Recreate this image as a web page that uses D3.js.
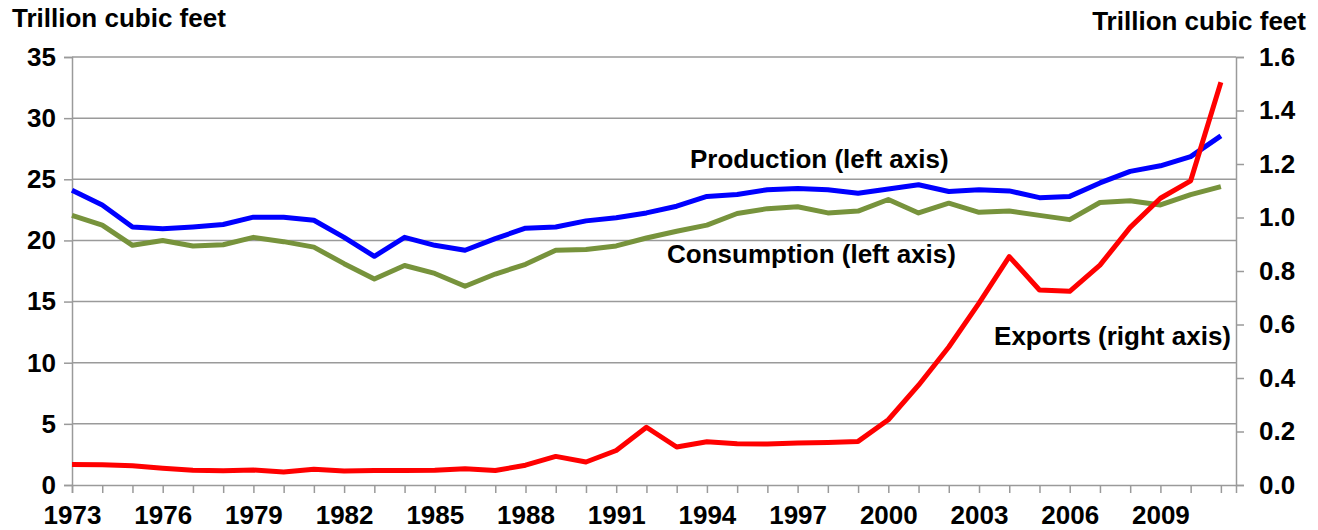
<!DOCTYPE html>
<html>
<head>
<meta charset="utf-8">
<script src="https://cdn.jsdelivr.net/npm/d3@7"></script>
<style>
    body { margin: 0; background: #fff; }
    text { font-family: "Liberation Sans", Arial, sans-serif; font-weight: bold; fill: #000; }
</style>
</head>
<body>
<div id="graph1"></div>
<script>
// data
var years = [1973, 1974, 1975, 1976, 1977, 1978, 1979, 1980, 1981, 1982, 1983, 1984, 1985,
    1986, 1987, 1988, 1989, 1990, 1991, 1992, 1993, 1994, 1995, 1996, 1997, 1998, 1999,
    2000, 2001, 2002, 2003, 2004, 2005, 2006, 2007, 2008, 2009, 2010, 2011];
var production = [24.1, 22.9, 21.1, 20.95, 21.1, 21.3, 21.9, 21.9, 21.65, 20.25, 18.7, 20.25, 19.6,
    19.2, 20.15, 21.0, 21.1, 21.6, 21.85, 22.25, 22.8, 23.6, 23.75, 24.15, 24.25, 24.15, 23.85,
    24.2, 24.55, 24.0, 24.15, 24.05, 23.5, 23.6, 24.7, 25.65, 26.1, 26.85, 28.55];
var consumption = [22.05, 21.25, 19.6, 20.0, 19.55, 19.65, 20.25, 19.9, 19.45, 18.1, 16.85, 17.95, 17.3,
    16.25, 17.25, 18.05, 19.2, 19.25, 19.55, 20.2, 20.75, 21.25, 22.2, 22.6, 22.75, 22.25, 22.4,
    23.35, 22.25, 23.05, 22.3, 22.4, 22.05, 21.7, 23.1, 23.25, 22.9, 23.75, 24.4];
var exports = [0.077, 0.076, 0.072, 0.063, 0.055, 0.053, 0.056, 0.049, 0.059, 0.052, 0.054, 0.054, 0.055,
    0.061, 0.054, 0.074, 0.107, 0.086, 0.129, 0.216, 0.142, 0.162, 0.154, 0.153, 0.157, 0.159, 0.163,
    0.244, 0.373, 0.516, 0.680, 0.854, 0.729, 0.724, 0.822, 0.963, 1.072, 1.137, 1.506];
var leftTicks = [0, 5, 10, 15, 20, 25, 30, 35];
var rightTicks = [0, 0.2, 0.4, 0.6, 0.8, 1.0, 1.2, 1.4, 1.6];
var yearLabels = [1973, 1976, 1979, 1982, 1985, 1988, 1991, 1994, 1997, 2000, 2003, 2006, 2009];

var width = 1318, height = 530;
var plot = {left: 72, right: 1236, top: 57, bottom: 485};
var fontSize = "26px";

var svg = d3.select("#graph1")
    .append("svg")
    .attr("width", width)
    .attr("height", height);

// scales: years sit on the tick marks, axis runs half a year past 2011
var x = d3.scaleLinear()
    .domain([1973, 2011.5])
    .range([plot.left, plot.right]);
var yL = d3.scaleLinear()
    .domain([0, 35])
    .range([plot.bottom, plot.top]);
var yR = d3.scaleLinear()
    .domain([0, 1.6])
    .range([plot.bottom, plot.top]);

var gridColor = "#9a9a9a";

// horizontal gridlines
svg.append("g")
    .selectAll("line")
    .data(leftTicks.slice(1))
    .enter()
    .append("line")
    .attr("x1", plot.left)
    .attr("x2", plot.right)
    .attr("y1", function (d) { return yL(d); })
    .attr("y2", function (d) { return yL(d); })
    .style("stroke", gridColor)
    .style("stroke-width", 1.5);

// left axis
var leftAxis = svg.append("g")
    .attr("transform", "translate(" + plot.left + ",0)")
    .call(d3.axisLeft(yL).tickValues(leftTicks).tickSize(8).tickPadding(8));

// right axis
var rightAxis = svg.append("g")
    .attr("transform", "translate(" + plot.right + ",0)")
    .call(d3.axisRight(yR).tickValues(rightTicks).tickSize(8).tickPadding(15)
        .tickFormat(d3.format(".1f")));

// bottom axis, a tick every year, label every third
var bottomAxis = svg.append("g")
    .attr("transform", "translate(0," + plot.bottom + ")")
    .call(d3.axisBottom(x).tickValues(years).tickSize(8).tickPadding(13)
        .tickFormat(function (d) { return yearLabels.indexOf(d) >= 0 ? d : ""; }));

[leftAxis, rightAxis, bottomAxis].forEach(function (g) {
    g.select(".domain").style("stroke", gridColor).style("stroke-width", 1.5);
    g.selectAll(".tick line").style("stroke", gridColor).style("stroke-width", 1.5);
    g.selectAll(".tick text")
        .style("font-family", "'Liberation Sans', Arial, sans-serif")
        .style("font-weight", "bold")
        .style("font-size", fontSize)
        .style("fill", "#000");
});

// lines
var series = [
    {name: "production", values: production, scale: yL, color: "#0000ff"},
    {name: "consumption", values: consumption, scale: yL, color: "#77933c"},
    {name: "exports", values: exports, scale: yR, color: "#ff0000"}
];

svg.selectAll("myLines")
    .data(series)
    .enter()
    .append("path")
    .attr("d", function (s) {
        return d3.line()
            .x(function (d, i) { return x(years[i]); })
            .y(function (d) { return s.scale(d); })(s.values);
    })
    .style("stroke", function (s) { return s.color; })
    .style("stroke-width", 5)
    .style("stroke-linejoin", "round")
    .style("fill", "none");

// labels
var labels = [
    {text: "Trillion cubic feet", x: 12, y: 27, anchor: "start"},
    {text: "Trillion cubic feet", x: 1306, y: 30, anchor: "end"},
    {text: "Production (left axis)", x: 690, y: 168, anchor: "start"},
    {text: "Consumption (left axis)", x: 667, y: 263, anchor: "start"},
    {text: "Exports (right axis)", x: 1231, y: 345, anchor: "end"}
];
svg.selectAll("myLabels")
    .data(labels)
    .enter()
    .append("text")
    .attr("x", function (d) { return d.x; })
    .attr("y", function (d) { return d.y; })
    .attr("text-anchor", function (d) { return d.anchor; })
    .style("font-size", fontSize)
    .text(function (d) { return d.text; });
</script>
</body>
</html>
